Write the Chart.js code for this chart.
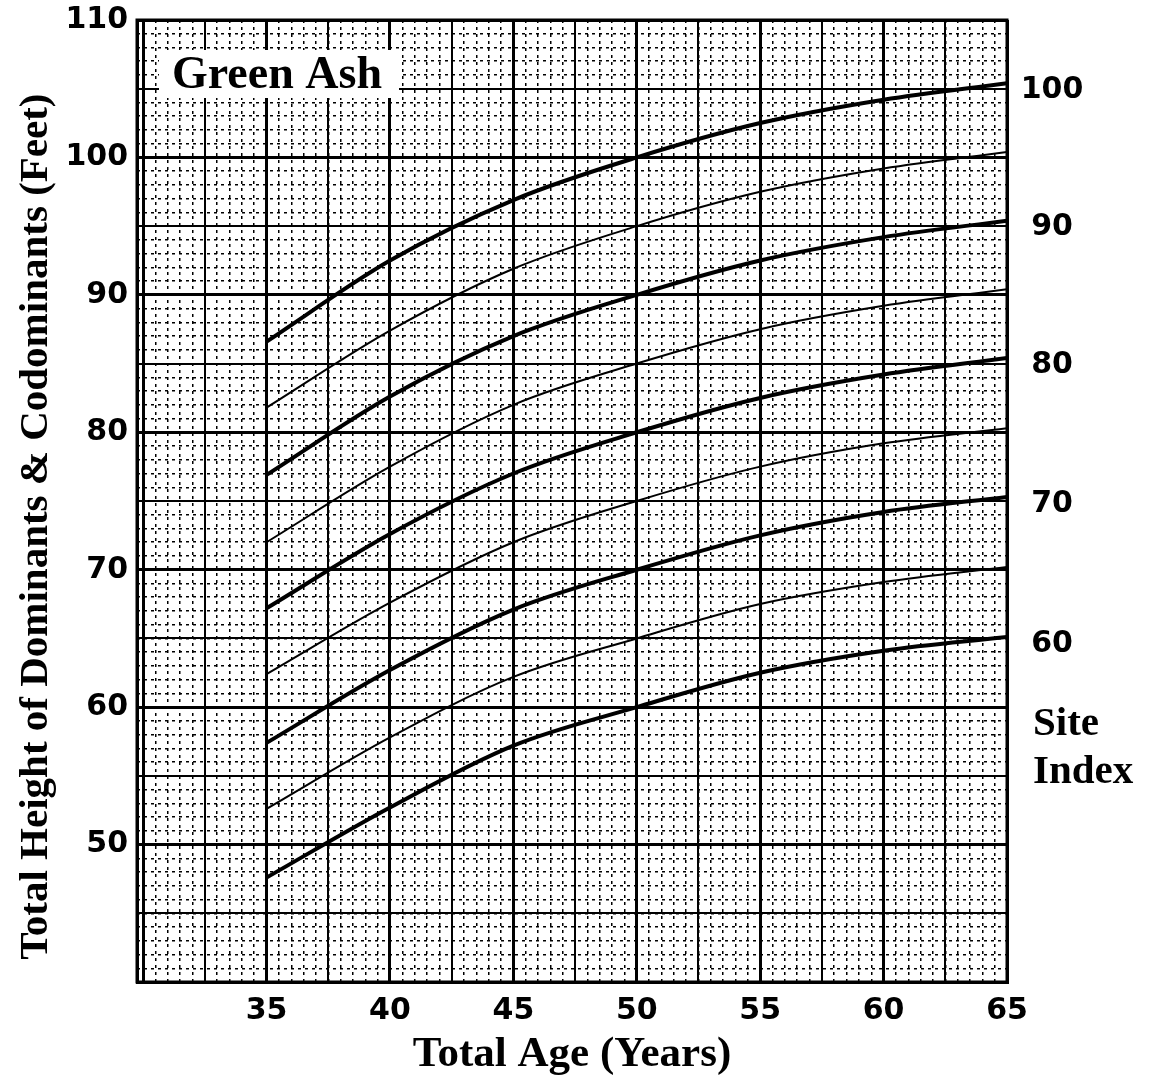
<!DOCTYPE html>
<html>
<head>
<meta charset="utf-8">
<title>Green Ash - Site Index Curves</title>
<script src="https://cdn.jsdelivr.net/npm/chart.js@4/dist/chart.umd.min.js"></script>
<style>
  html, body { margin: 0; padding: 0; background: #fff; }
  #wrap { width: 1151px; height: 1076px; position: relative; }
</style>
</head>
<body>
<div id="wrap"><canvas id="siteChart"></canvas></div>
<script>
// total age (years) where the curves were read
const ages = [35, 40, 45, 50, 55, 60, 65];

// total height (feet) of each site index curve at those ages
const si100 = [86.6, 92.5, 96.9, 100, 102.5, 104.2, 105.4];
const si95  = [81.8, 87.4, 91.9, 95, 97.5, 99.2, 100.4];
const si90  = [76.9, 82.6, 87.0, 90, 92.5, 94.2, 95.4];
const si85  = [72.0, 77.5, 82.0, 85, 87.5, 89.2, 90.4];
const si80  = [67.2, 72.6, 77.0, 80, 82.5, 84.2, 85.4];
const si75  = [62.4, 67.6, 72.0, 75, 77.5, 79.2, 80.3];
const si70  = [57.4, 62.7, 67.1, 70, 72.5, 74.2, 75.3];
const si65  = [52.6, 57.8, 62.2, 65, 67.5, 69.1, 70.2];
const si60  = [47.6, 52.7, 57.2, 60, 62.5, 64.1, 65.1];

const siteIndexes = [100, 95, 90, 85, 80, 75, 70, 65, 60];
const heights = [si100, si95, si90, si85, si80, si75, si70, si65, si60];

// tick labels
const ageLabels = [35, 40, 45, 50, 55, 60, 65];
const heightLabels = [50, 60, 70, 80, 90, 100, 110];
const rightLabels = [100, 90, 80, 70, 60];

const AGE_MIN = 29.75, AGE_MAX = 65;
const H_MIN = 40, H_MAX = 110;

// graph paper lines
function steps(from, to, step) {
    const out = [];
    for (let v = from; v <= to + 1e-9; v += step) out.push(Math.round(v * 100) / 100);
    return out;
}
const ageMajor = steps(30, 65, 2.5);
const ageMinor = steps(30, 65, 0.5);
const heightMajor = steps(40, 110, 5);
const heightMinor = steps(40, 110, 1);

const tickFont = { family: 'DejaVu Sans', weight: 'bold', size: 30 };

const paperPlugin = {
    id: 'paper',
    afterDraw(chart) {
        const { ctx, chartArea, scales } = chart;
        const y = scales.y;
        ctx.save();

        // frame
        ctx.lineWidth = 3;
        ctx.strokeStyle = '#000';
        ctx.strokeRect(chartArea.left, chartArea.top, chartArea.right - chartArea.left, chartArea.bottom - chartArea.top);

        // Green Ash box
        ctx.fillStyle = '#fff';
        ctx.fillRect(chartArea.left + 22, chartArea.top + 30, 240, 48);
        ctx.fillStyle = '#000';
        ctx.font = 'bold 46px "Liberation Serif"';
        ctx.textAlign = 'left';
        ctx.textBaseline = 'middle';
        ctx.fillText('Green Ash', chartArea.left + 35, chartArea.top + 56);

        // site index numbers beside the ends of the heavy curves
        ctx.font = 'bold 30px "DejaVu Sans"';
        ctx.textAlign = 'center';
        rightLabels.forEach(si => {
            const row = heights[siteIndexes.indexOf(si)];
            ctx.fillText(String(si), chartArea.right + 45, y.getPixelForValue(row[row.length - 1]) + 7);
        });

        ctx.font = 'bold 41px "Liberation Serif"';
        ctx.textAlign = 'left';
        ctx.fillText('Site', chartArea.right + 26, y.getPixelForValue(58.9) + 2);
        ctx.fillText('Index', chartArea.right + 26, y.getPixelForValue(55.4) + 2);
        ctx.restore();
    }
};

const ctx = document.getElementById('siteChart').getContext('2d');

new Chart(ctx, {
    type: 'line',
    data: {
        datasets: siteIndexes.map((si, i) => ({
            label: 'Site Index ' + si,
            data: ages.map((a, j) => ({ x: a, y: heights[i][j] })),
            borderColor: '#000',
            borderWidth: si % 10 === 0 ? 4 : 2,
            pointRadius: 0,
            cubicInterpolationMode: 'monotone',
            fill: false,
            xAxisID: 'x',
            yAxisID: 'y'
        }))
    },
    options: {
        responsive: true,
        maintainAspectRatio: false,
        animation: false,
        layout: { padding: { left: 0, top: 20, right: 144, bottom: 0 } },
        plugins: {
            legend: { display: false },
            tooltip: { enabled: false }
        },
        scales: {
            xMinor: {
                type: 'linear', position: 'bottom', min: AGE_MIN, max: AGE_MAX, z: -1,
                afterBuildTicks: a => { a.ticks = ageMinor.map(v => ({ value: v })); },
                afterFit: a => { a.height = 0; },
                grid: { color: '#000', lineWidth: 1.5, drawTicks: false },
                border: { display: false, dash: [3, 4] },
                ticks: { display: false }
            },
            yMinor: {
                type: 'linear', position: 'left', min: H_MIN, max: H_MAX, z: -1,
                afterBuildTicks: a => { a.ticks = heightMinor.map(v => ({ value: v })); },
                afterFit: a => { a.width = 0; },
                grid: { color: '#000', lineWidth: 1.5, drawTicks: false },
                border: { display: false, dash: [3, 4] },
                ticks: { display: false }
            },
            x: {
                type: 'linear', position: 'bottom', min: AGE_MIN, max: AGE_MAX,
                afterBuildTicks: a => { a.ticks = ageMajor.map(v => ({ value: v })); },
                afterFit: a => { a.height = 94; },
                grid: {
                    color: '#000',
                    drawTicks: false,
                    lineWidth: c => (c.tick && c.tick.value % 5 === 0) ? 3 : 2
                },
                border: { display: true, color: '#000', width: 3 },
                ticks: {
                    color: '#000', font: tickFont, padding: 11,
                    autoSkip: false, maxRotation: 0,
                    callback: v => ageLabels.includes(v) ? String(v) : ''
                },
                title: {
                    display: true, text: 'Total Age (Years)', color: '#000',
                    font: { family: 'Liberation Serif', weight: 'bold', size: 43, lineHeight: 1 },
                    padding: { top: 0, bottom: 0 }
                }
            },
            y: {
                type: 'linear', position: 'left', min: H_MIN, max: H_MAX,
                afterBuildTicks: a => { a.ticks = heightMajor.map(v => ({ value: v })); },
                afterFit: a => { a.width = 137; a.paddingTop = 0; a.paddingBottom = 0; },
                grid: {
                    color: '#000',
                    drawTicks: false,
                    lineWidth: c => (c.tick && c.tick.value % 10 === 0) ? 3 : 2
                },
                border: { display: true, color: '#000', width: 3 },
                ticks: {
                    color: '#000', font: tickFont, padding: 9,
                    autoSkip: false,
                    callback: v => heightLabels.includes(v) ? String(v) : ''
                },
                title: {
                    display: true, text: 'Total Height of Dominants & Codominants (Feet)     ', color: '#000',
                    font: { family: 'Liberation Serif', weight: 'bold', size: 41 },
                    padding: { top: 12, bottom: 0 }
                }
            }
        }
    },
    plugins: [paperPlugin]
});
</script>
</body>
</html>
